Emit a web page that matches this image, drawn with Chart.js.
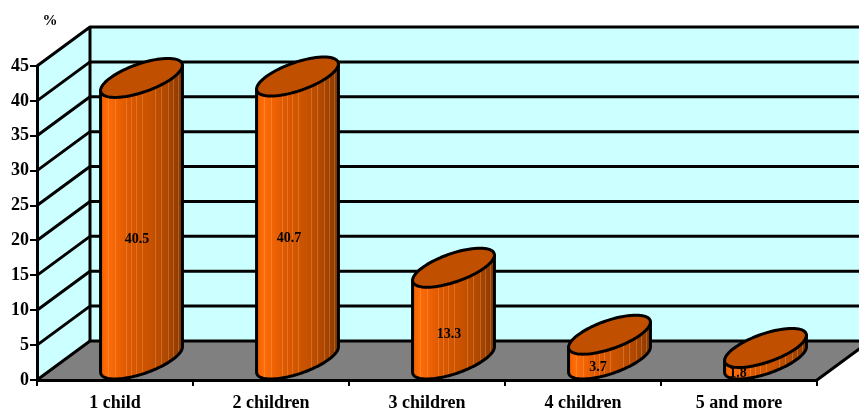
<!DOCTYPE html>
<html>
<head>
<meta charset="utf-8">
<style>
    html, body { margin: 0; padding: 0; background: #fff; }
    canvas { display: block; }
</style>
<script src="https://cdn.jsdelivr.net/npm/chart.js@4/dist/chart.umd.min.js"></script>
</head>
<body>
<canvas id="chart" width="859" height="409"></canvas>
<script>
"use strict";

const categories = ["1 child", "2 children", "3 children", "4 children", "5 and more"];
const percents = [40.5, 40.7, 13.3, 3.7, 1.8];
const yTicks = [0, 5, 10, 15, 20, 25, 30, 35, 40, 45];

// look of the fake 3d box
const depthX = 53;
const depthY = 39;
const labelShift = [22, 18, 22, 15, -1];
const slats = [0.085, 0.18, 0.305, 0.37, 0.43, 0.5, 0.67, 0.74, 0.82, 0.88, 0.95];
const serif = '"Liberation Serif", serif';

function ellipsePoint(cx, cy, a, t) {
    return [
        cx + a * Math.cos(t) + (depthX / 2) * Math.sin(t),
        cy - (depthY / 2) * Math.sin(t)
    ];
}

// cylinders instead of flat bars
Chart.BarElement.prototype.draw = function (ctx) {
    const { x, y, base, width } = this.getProps(["x", "y", "base", "width"]);
    const a = width / 2;
    const cx = x + depthX / 2;
    const topY = y - depthY / 2;
    const botY = base - depthY / 2;
    const reach = Math.hypot(a, depthX / 2);
    const tRight = Math.atan2(depthX / 2, a);
    const steps = 80;

    ctx.save();
    ctx.lineJoin = "round";

    // side
    const body = new Path2D();
    const side = ellipsePoint(cx, topY, a, tRight + Math.PI);
    body.moveTo(side[0], side[1]);
    for (let i = 0; i <= steps; i++) {
        const p = ellipsePoint(cx, botY, a, tRight + Math.PI + (Math.PI * i) / steps);
        body.lineTo(p[0], p[1]);
    }
    const end = ellipsePoint(cx, topY, a, tRight);
    body.lineTo(end[0], end[1]);
    body.closePath();

    const grad = ctx.createLinearGradient(cx - reach, 0, cx + reach, 0);
    grad.addColorStop(0, "#EE6000");
    grad.addColorStop(0.08, "#FF6C08");
    grad.addColorStop(0.35, "#DC5800");
    grad.addColorStop(0.6, "#C85200");
    grad.addColorStop(0.8, "#B04800");
    grad.addColorStop(1, "#863800");
    ctx.fillStyle = grad;
    ctx.fill(body);

    ctx.save();
    ctx.clip(body);
    ctx.strokeStyle = "rgba(255, 190, 130, 0.28)";
    ctx.lineWidth = 1;
    slats.forEach(function (f) {
        const sx = Math.round(cx - reach + f * reach * 2) + 0.5;
        ctx.beginPath();
        ctx.moveTo(sx, topY - depthY);
        ctx.lineTo(sx, base + 2);
        ctx.stroke();
    });
    ctx.restore();

    ctx.strokeStyle = "#000";
    ctx.lineWidth = 3;
    ctx.stroke(body);

    // cap
    ctx.beginPath();
    for (let i = 0; i <= steps; i++) {
        const p = ellipsePoint(cx, topY, a, (Math.PI * 2 * i) / steps);
        if (i === 0) ctx.moveTo(p[0], p[1]);
        else ctx.lineTo(p[0], p[1]);
    }
    ctx.closePath();
    ctx.fillStyle = this.options.backgroundColor;
    ctx.fill();
    ctx.stroke();
    ctx.restore();
};

const box3d = {
    id: "box3d",
    beforeDraw(chart) {
        const { ctx, chartArea } = chart;
        const yScale = chart.scales.y;
        const left = chartArea.left;
        const right = chartArea.right;
        const bottom = yScale.getPixelForValue(0);
        const top = yScale.getPixelForValue(45);

        ctx.save();
        ctx.lineJoin = "round";

        // side wall and back wall
        ctx.fillStyle = "#CCFFFF";
        ctx.beginPath();
        ctx.moveTo(left, bottom);
        ctx.lineTo(left, top);
        ctx.lineTo(left + depthX, top - depthY);
        ctx.lineTo(right + depthX, top - depthY);
        ctx.lineTo(right + depthX, bottom - depthY);
        ctx.lineTo(left + depthX, bottom - depthY);
        ctx.closePath();
        ctx.fill();

        // floor
        ctx.fillStyle = "#808080";
        ctx.beginPath();
        ctx.moveTo(left, bottom);
        ctx.lineTo(right, bottom);
        ctx.lineTo(right + depthX, bottom - depthY);
        ctx.lineTo(left + depthX, bottom - depthY);
        ctx.closePath();
        ctx.fill();

        ctx.strokeStyle = "#000";
        ctx.lineWidth = 3;

        // grid runs round the two walls
        yTicks.forEach(function (v) {
            const py = yScale.getPixelForValue(v);
            ctx.beginPath();
            ctx.moveTo(left, py);
            ctx.lineTo(left + depthX, py - depthY);
            ctx.lineTo(right + depthX, py - depthY);
            ctx.stroke();
        });

        // wall corner and floor edge
        ctx.beginPath();
        ctx.moveTo(left + depthX, top - depthY);
        ctx.lineTo(left + depthX, bottom - depthY);
        ctx.moveTo(right, bottom);
        ctx.lineTo(right + depthX, bottom - depthY);
        ctx.stroke();

        ctx.fillStyle = "#000";
        ctx.font = "bold 15px " + serif;
        ctx.textAlign = "center";
        ctx.textBaseline = "middle";
        ctx.fillText("%", 50, 21);
        ctx.restore();
    },
    afterDatasetsDraw(chart) {
        const { ctx } = chart;
        const bars = chart.getDatasetMeta(0).data;
        ctx.save();
        ctx.fillStyle = "#000";
        ctx.font = "bold 14px " + serif;
        ctx.textAlign = "center";
        ctx.textBaseline = "middle";
        bars.forEach(function (bar, i) {
            // very short bars keep the number clear of the bottom edge
            const midY = Math.min((bar.y + bar.base) / 2 + 1, bar.base - 6);
            ctx.fillText(percents[i].toFixed(1), bar.x + labelShift[i], midY);
        });
        ctx.restore();
    }
};

new Chart(document.getElementById("chart"), {
    type: "bar",
    data: {
        labels: categories,
        datasets: [{
            data: percents,
            backgroundColor: "#C05000",
            barPercentage: 1,
            categoryPercentage: 0.4,
            clip: false
        }]
    },
    options: {
        responsive: false,
        animation: false,
        layout: { padding: { top: 66, right: 42, left: 0, bottom: 0 } },
        plugins: {
            legend: { display: false },
            tooltip: { enabled: false }
        },
        scales: {
            x: {
                afterFit(scale) { scale.height = 29; },
                grid: { drawOnChartArea: false, color: "#000", tickLength: 6, lineWidth: 2 },
                border: { color: "#000", width: 3 },
                ticks: {
                    color: "#000",
                    maxRotation: 0,
                    padding: 7,
                    font: { family: serif, size: 18, weight: "bold" }
                }
            },
            y: {
                min: 0,
                max: 45,
                afterFit(scale) { scale.width = 37; },
                afterBuildTicks(scale) { scale.ticks = yTicks.map(function (v) { return { value: v }; }); },
                grid: { drawOnChartArea: false, color: "#000", tickLength: 7, lineWidth: 2 },
                border: { color: "#000", width: 3 },
                ticks: {
                    color: "#000",
                    padding: 1,
                    font: { family: serif, size: 18, weight: "bold" }
                }
            }
        }
    },
    plugins: [box3d]
});
</script>
</body>
</html>
